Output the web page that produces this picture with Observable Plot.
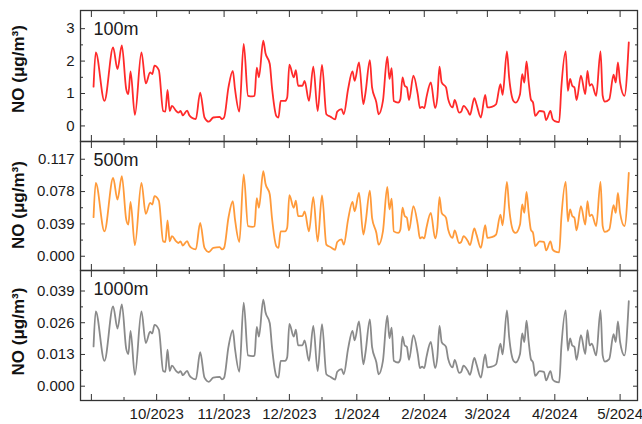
<!DOCTYPE html>
<html><head><meta charset="utf-8">
<script src="https://cdn.jsdelivr.net/npm/d3@7"></script>
<script src="https://cdn.jsdelivr.net/npm/@observablehq/plot@0.6"></script>
<style>
body{margin:0;background:#fff;}
#chart{position:relative;width:642px;height:424px;font-family:"Liberation Sans",Arial,sans-serif;}
#chart svg{position:absolute;left:0;top:0;overflow:visible;}
</style></head><body><div id="chart"></div>
<script>
const dates = [
"2023-09-02","2023-09-03","2023-09-07","2023-09-11","2023-09-13","2023-09-15","2023-09-17","2023-09-18","2023-09-19","2023-09-21","2023-09-24","2023-09-26","2023-09-28","2023-09-29","2023-09-30",
"2023-10-02","2023-10-04","2023-10-05","2023-10-06","2023-10-07","2023-10-08","2023-10-10","2023-10-11","2023-10-12","2023-10-13","2023-10-15","2023-10-16","2023-10-17","2023-10-19","2023-10-21","2023-10-23","2023-10-25","2023-10-27","2023-10-30","2023-10-31",
"2023-11-01","2023-11-03","2023-11-05","2023-11-06","2023-11-08","2023-11-10","2023-11-12","2023-11-14","2023-11-15","2023-11-16","2023-11-17","2023-11-19","2023-11-20","2023-11-22","2023-11-23","2023-11-25","2023-11-26","2023-11-27","2023-11-29","2023-11-30",
"2023-12-01","2023-12-03","2023-12-04","2023-12-05","2023-12-07","2023-12-08","2023-12-10","2023-12-12","2023-12-14","2023-12-16","2023-12-18","2023-12-20","2023-12-22","2023-12-23","2023-12-25","2023-12-26","2023-12-28","2023-12-30","2023-12-31",
"2024-01-02","2024-01-04","2024-01-05","2024-01-07","2024-01-08","2024-01-10","2024-01-11","2024-01-13","2024-01-15","2024-01-16","2024-01-17","2024-01-18","2024-01-20","2024-01-21","2024-01-22","2024-01-23","2024-01-24","2024-01-25","2024-01-27","2024-01-29","2024-01-30","2024-01-31",
"2024-02-01","2024-02-02","2024-02-04","2024-02-06","2024-02-07","2024-02-08","2024-02-09","2024-02-11","2024-02-12","2024-02-14","2024-02-15","2024-02-17","2024-02-18","2024-02-19","2024-02-21","2024-02-22","2024-02-24","2024-02-25","2024-02-27","2024-02-29",
"2024-03-01","2024-03-03","2024-03-05","2024-03-07","2024-03-08","2024-03-10","2024-03-11","2024-03-13","2024-03-14","2024-03-16","2024-03-17","2024-03-18","2024-03-19","2024-03-20","2024-03-21","2024-03-22","2024-03-23","2024-03-25","2024-03-27","2024-03-28","2024-03-30","2024-03-31",
"2024-04-01","2024-04-03","2024-04-04","2024-04-06","2024-04-07","2024-04-08","2024-04-09","2024-04-10","2024-04-11","2024-04-13","2024-04-15","2024-04-16","2024-04-17","2024-04-18","2024-04-20","2024-04-22","2024-04-23","2024-04-24","2024-04-26","2024-04-28","2024-04-29","2024-04-30",
"2024-05-01","2024-05-03","2024-05-05"
];
const no100 = [
1.21,2.27,0.77,2.42,1.75,2.48,1.14,0.98,1.68,0.34,2.27,1.31,1.65,1.60,1.86,
1.72,0.46,0.44,1.11,0.46,0.62,0.46,0.41,0.46,0.33,0.47,0.33,0.26,0.21,1.03,0.26,0.13,0.26,0.28,0.21,
0.26,1.19,1.70,1.14,0.44,2.53,0.93,0.91,0.93,1.80,1.50,2.63,2.25,1.91,1.19,0.31,0.26,0.77,0.77,0.88,
1.89,1.50,1.72,1.24,1.24,1.39,0.77,1.83,0.46,1.88,0.36,0.28,0.20,0.44,0.52,0.36,1.14,1.68,1.39,
1.96,0.67,1.03,2.03,1.19,0.72,0.36,0.77,2.14,1.45,1.78,0.77,0.72,0.82,1.50,1.24,1.19,0.80,1.55,0.98,0.55,0.59,
0.55,0.88,1.34,0.55,0.88,1.83,1.34,1.19,0.82,0.57,0.80,0.41,0.44,0.62,0.47,0.34,0.86,0.67,0.26,0.96,
0.57,0.59,0.67,1.29,0.96,2.30,1.50,0.77,0.72,0.98,1.60,1.34,1.99,1.34,0.82,0.72,0.31,0.46,0.44,0.18,0.46,0.21,
0.15,0.12,1.19,2.30,1.08,1.45,1.24,1.19,0.80,1.55,0.98,1.70,1.24,1.29,0.93,2.30,0.93,0.75,0.82,1.58,1.34,1.96,
1.34,0.93,2.58
];
const no500 = [
0.0472,0.0885,0.0300,0.0944,0.0683,0.0967,0.0445,0.0382,0.0655,0.0133,0.0885,0.0511,0.0644,0.0624,0.0725,
0.0671,0.0179,0.0172,0.0433,0.0179,0.0242,0.0179,0.0160,0.0179,0.0129,0.0183,0.0129,0.0101,0.0082,0.0402,0.0101,0.0051,0.0101,0.0109,0.0082,
0.0101,0.0464,0.0663,0.0445,0.0172,0.0987,0.0363,0.0355,0.0363,0.0702,0.0585,0.1026,0.0878,0.0745,0.0464,0.0121,0.0101,0.0300,0.0300,0.0343,
0.0737,0.0585,0.0671,0.0484,0.0484,0.0542,0.0300,0.0714,0.0179,0.0733,0.0140,0.0109,0.0078,0.0172,0.0203,0.0140,0.0445,0.0655,0.0542,
0.0764,0.0261,0.0402,0.0792,0.0464,0.0281,0.0140,0.0300,0.0835,0.0566,0.0694,0.0300,0.0281,0.0320,0.0585,0.0484,0.0464,0.0312,0.0605,0.0382,0.0215,0.0230,
0.0215,0.0343,0.0523,0.0215,0.0343,0.0714,0.0523,0.0464,0.0320,0.0222,0.0312,0.0160,0.0172,0.0242,0.0183,0.0133,0.0335,0.0261,0.0101,0.0374,
0.0222,0.0230,0.0261,0.0503,0.0374,0.0897,0.0585,0.0300,0.0281,0.0382,0.0624,0.0523,0.0776,0.0523,0.0320,0.0281,0.0121,0.0179,0.0172,0.0070,0.0179,0.0082,
0.0059,0.0047,0.0464,0.0897,0.0421,0.0566,0.0484,0.0464,0.0312,0.0605,0.0382,0.0663,0.0484,0.0503,0.0363,0.0897,0.0363,0.0293,0.0320,0.0616,0.0523,0.0764,
0.0523,0.0363,0.1006
];
const no1000 = [
0.0163,0.0306,0.0104,0.0327,0.0236,0.0335,0.0154,0.0132,0.0227,0.0046,0.0306,0.0177,0.0223,0.0216,0.0251,
0.0232,0.0062,0.0059,0.0150,0.0062,0.0084,0.0062,0.0055,0.0062,0.0045,0.0063,0.0045,0.0035,0.0028,0.0139,0.0035,0.0018,0.0035,0.0038,0.0028,
0.0035,0.0161,0.0230,0.0154,0.0059,0.0342,0.0126,0.0123,0.0126,0.0243,0.0203,0.0355,0.0304,0.0258,0.0161,0.0042,0.0035,0.0104,0.0104,0.0119,
0.0255,0.0203,0.0232,0.0167,0.0167,0.0188,0.0104,0.0247,0.0062,0.0254,0.0049,0.0038,0.0027,0.0059,0.0070,0.0049,0.0154,0.0227,0.0188,
0.0265,0.0090,0.0139,0.0274,0.0161,0.0097,0.0049,0.0104,0.0289,0.0196,0.0240,0.0104,0.0097,0.0111,0.0203,0.0167,0.0161,0.0108,0.0209,0.0132,0.0074,0.0080,
0.0074,0.0119,0.0181,0.0074,0.0119,0.0247,0.0181,0.0161,0.0111,0.0077,0.0108,0.0055,0.0059,0.0084,0.0063,0.0046,0.0116,0.0090,0.0035,0.0130,
0.0077,0.0080,0.0090,0.0174,0.0130,0.0311,0.0203,0.0104,0.0097,0.0132,0.0216,0.0181,0.0269,0.0181,0.0111,0.0097,0.0042,0.0062,0.0059,0.0024,0.0062,0.0028,
0.0020,0.0016,0.0161,0.0311,0.0146,0.0196,0.0167,0.0161,0.0108,0.0209,0.0132,0.0230,0.0167,0.0174,0.0126,0.0311,0.0126,0.0101,0.0111,0.0213,0.0181,0.0265,
0.0181,0.0126,0.0348
];
const panelLabels = ["100m","500m","1000m"];
const yLabel = "NO (μg/m³)";
const yTicks100 = [0,1,2,3];
const yMinor100 = [0.5,1.5,2.5];
const yTicks500 = [0,0.039,0.078,0.117];
const yMinor500 = [0.0195,0.0585,0.0975];
const yTicks1000 = [0,0.013,0.026,0.039];
const yMinor1000 = [0.0065,0.0195,0.0325];
const xMajorTicks = ["2023-09-01","2023-10-01","2023-11-01","2023-12-01","2024-01-01","2024-02-01","2024-03-01","2024-04-01","2024-05-01"];
const xMinorTicks = ["2023-09-16","2023-10-16","2023-11-16","2023-12-16","2024-01-16","2024-02-16","2024-03-16","2024-04-16"];
const xLabelTicks = ["2023-10-01","2023-11-01","2023-12-01","2024-01-01","2024-02-01","2024-03-01","2024-04-01","2024-05-01"];
const xDomain = ["2023-08-27","2024-05-09"];

const toDate = s => new Date(s + "T00:00:00Z");
const dateObjs = dates.map(toDate);

const panels = [
  {label: panelLabels[0], values: no100, color: "#ff2a2a", domain: [-0.48, 3.56], ticks: yTicks100, minor: yMinor100, fmt: d3.format("d"), top: 10, bottom: 141, last: false, labelShift: -7},
  {label: panelLabels[1], values: no500, color: "#ff9a3a", domain: [-0.0172, 0.1384], ticks: yTicks500, minor: yMinor500, fmt: d3.format(".3f"), top: 141, bottom: 270, last: false, labelShift: -1},
  {label: panelLabels[2], values: no1000, color: "#8a8a8a", domain: [-0.00586, 0.0474], ticks: yTicks1000, minor: yMinor1000, fmt: d3.format(".3f"), top: 270, bottom: 400, last: true, labelShift: -4}
];

const chart = document.getElementById("chart");
const axisColor = "#333";
for (const p of panels) {
  const rows = dateObjs.map((d, i) => ({date: d, v: p.values[i]}));
  const marks = [
    Plot.line(rows, {x: "date", y: "v", stroke: p.color, strokeWidth: 1.8, curve: "monotone-x"}),
    Plot.frame({stroke: axisColor, strokeWidth: 1.3}),
    Plot.axisY(p.ticks, {anchor: "left", tickSize: -5, tickPadding: 11, tickFormat: p.fmt, fontSize: 15, fill: "#1a1a1a", stroke: axisColor, label: null}),
    Plot.axisY(p.minor, {anchor: "left", tickSize: -3, fill: "none", stroke: axisColor, label: null}),
    Plot.axisY(p.ticks, {anchor: "right", tickSize: -5, fill: "none", stroke: axisColor, label: null}),
    Plot.axisY(p.minor, {anchor: "right", tickSize: -3, fill: "none", stroke: axisColor, label: null}),
    Plot.axisX(xMajorTicks.map(toDate), {anchor: "bottom", tickSize: -6, fill: "none", stroke: axisColor, label: null}),
    Plot.axisX(xMinorTicks.map(toDate), {anchor: "bottom", tickSize: -3, fill: "none", stroke: axisColor, label: null}),
    Plot.axisX(xMajorTicks.map(toDate), {anchor: "top", tickSize: -6, fill: "none", stroke: axisColor, label: null}),
    Plot.axisX(xMinorTicks.map(toDate), {anchor: "top", tickSize: -3, fill: "none", stroke: axisColor, label: null}),
    Plot.text([p.label], {frameAnchor: "top-left", dx: 13, dy: 12, fontSize: 18, fill: "#1a1a1a", textAnchor: "start", lineAnchor: "top"}),
    Plot.text([yLabel], {frameAnchor: "left", dx: -62, dy: p.labelShift, rotate: -90, fontSize: 17, fontWeight: "bold", fill: "#111", textAnchor: "middle", lineAnchor: "middle"})
  ];
  if (p.last) {
    marks.push(Plot.axisX(xLabelTicks.map(toDate), {anchor: "bottom", tickSize: 0, tickPadding: 8, tickFormat: d3.utcFormat("%-m/%Y"), fontSize: 15, fill: "#1a1a1a", label: null}));
  }
  const svg = Plot.plot({
    width: 642,
    height: p.last ? 424 : p.bottom,
    marginLeft: 80,
    marginRight: 5,
    marginTop: p.top,
    marginBottom: p.last ? 24 : 0,
    style: {background: "transparent", fontFamily: "'Liberation Sans', Arial, sans-serif", overflow: "visible"},
    x: {type: "utc", domain: xDomain.map(toDate)},
    y: {domain: p.domain},
    marks
  });
  chart.appendChild(svg);
}
</script>
</body></html>
